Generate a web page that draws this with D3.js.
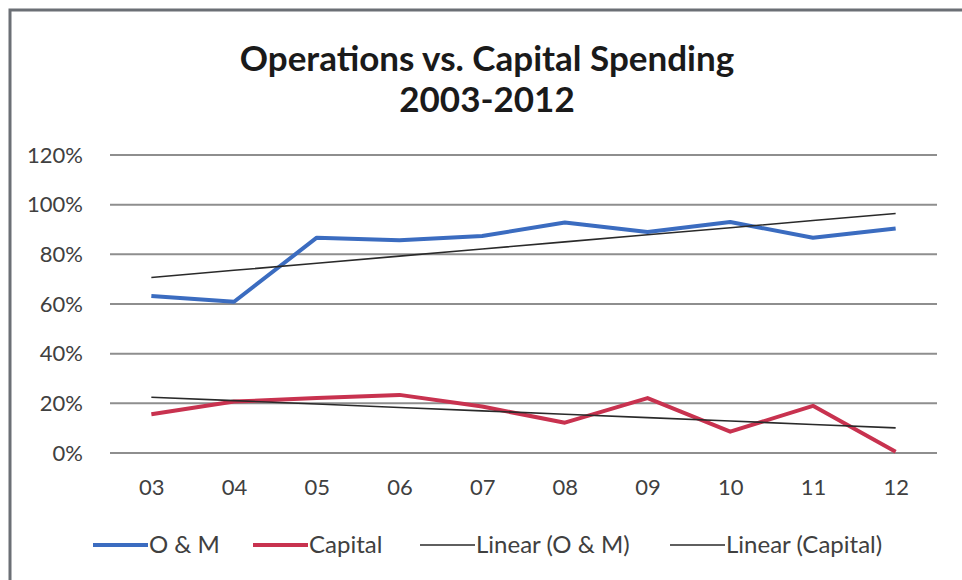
<!DOCTYPE html>
<meta charset="utf-8">
<head>
<style>
body { margin: 0; background: #fff; }
svg { font-family: Lato, "Open Sans", "DejaVu Sans", sans-serif; }
.grid line { stroke: #8e8e8e; stroke-width: 2; }
.axis text { fill: #404040; font-size: 22px; font-family: Lato, "Open Sans", sans-serif; }
</style>
</head>
<body>
<script src="https://cdn.jsdelivr.net/npm/d3@7"></script>
<svg id="chart" width="962" height="580"></svg>
<script>

var years = ["03", "04", "05", "06", "07", "08", "09", "10", "11", "12"];
var omValues = [63.2, 60.9, 86.7, 85.7, 87.4, 92.8, 89.0, 93.0, 86.7, 90.4];
var capitalValues = [15.6, 20.7, 22.1, 23.4, 18.7, 12.2, 22.1, 8.6, 19.0, 0.5];
var yTicks = [0, 20, 40, 60, 80, 100, 120];
var legendLabels = ["O & M", "Capital", "Linear (O & M)", "Linear (Capital)"];

var svg = d3.select("#chart"),
    margin = {top: 155, right: 25, bottom: 127, left: 110},
    width = +svg.attr("width") - margin.left - margin.right,
    height = +svg.attr("height") - margin.top - margin.bottom;

// frame (only top and left edges show in the picture)
svg.append("path")
    .attr("d", "M10,580 V10 H962")
    .attr("fill", "none")
    .attr("stroke", "#6b6f75")
    .attr("stroke-width", 3);

var title = svg.append("text")
    .attr("x", 487)
    .attr("text-anchor", "middle")
    .style("font-weight", "bold")
    .style("font-size", "35px")
    .attr("fill", "#1a1a1a");
title.append("tspan").attr("x", 487).attr("y", 71).text("Operations vs. Capital Spending");
title.append("tspan").attr("x", 487).attr("y", 112).text("2003-2012");

var g = svg.append("g").attr("transform", "translate(" + margin.left + "," + margin.top + ")");

var x = d3.scalePoint()
    .domain(years)
    .range([0, width])
    .padding(0.5);

var y = d3.scaleLinear()
    .domain([0, 120])
    .range([height, 0]);

g.append("g")
    .attr("class", "grid")
    .selectAll("line")
    .data(yTicks)
    .enter().append("line")
      .attr("x1", 0)
      .attr("x2", width)
      .attr("y1", function(d) { return y(d); })
      .attr("y2", function(d) { return y(d); });

var yAxis = g.append("g")
    .attr("class", "axis")
    .call(d3.axisLeft(y).tickValues(yTicks).tickSize(0).tickPadding(27)
      .tickFormat(function(d) { return d + "%"; }));
yAxis.select(".domain").remove();

var xAxis = g.append("g")
    .attr("class", "axis")
    .attr("transform", "translate(0," + height + ")")
    .call(d3.axisBottom(x).tickSize(0).tickPadding(26));
xAxis.select(".domain").remove();

// least squares trend line over index 1..n
function trend(values) {
  var n = values.length, xm = (n + 1) / 2, ym = d3.mean(values), sxy = 0, sxx = 0;
  values.forEach(function(v, i) { sxy += (i + 1 - xm) * (v - ym); sxx += (i + 1 - xm) * (i + 1 - xm); });
  var b = sxy / sxx, a = ym - b * xm;
  return values.map(function(v, i) { return a + b * (i + 1); });
}

var line = d3.line()
    .x(function(d, i) { return x(years[i]); })
    .y(function(d) { return y(d); });

var series = [
  {values: omValues, color: "#3b6cc0", width: 4},
  {values: capitalValues, color: "#c8324f", width: 4},
  {values: trend(omValues), color: "#2a2a2a", width: 1.6},
  {values: trend(capitalValues), color: "#2a2a2a", width: 1.6}
];

g.selectAll(".serie")
  .data(series)
  .enter().append("path")
    .attr("class", "serie")
    .attr("fill", "none")
    .attr("stroke", function(d) { return d.color; })
    .attr("stroke-width", function(d) { return d.width; })
    .attr("stroke-linejoin", "round")
    .attr("d", function(d) { return line(d.values); });

var legendX = [93, 253, 420, 670];
var legend = svg.selectAll(".legend")
  .data(legendLabels)
  .enter().append("g")
    .attr("class", "legend")
    .attr("transform", function(d, i) { return "translate(" + legendX[i] + ",545)"; });

legend.append("line")
    .attr("x1", 0)
    .attr("x2", 55)
    .attr("stroke", function(d, i) { return series[i].color; })
    .attr("stroke-width", function(d, i) { return series[i].width; });

legend.append("text")
    .attr("x", 56)
    .attr("dy", "0.35em")
    .attr("fill", "#404040")
    .style("font-size", "24px")
    .text(function(d) { return d; });

</script>
</body>
</html>
